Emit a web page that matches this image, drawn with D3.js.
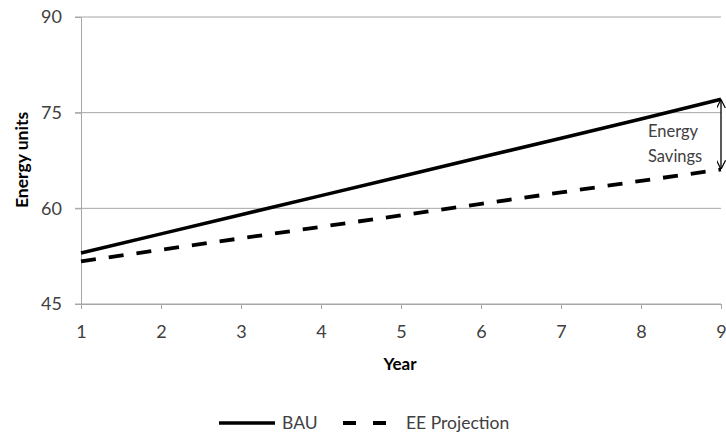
<!DOCTYPE html>
<html>
<head>
<meta charset="utf-8">
<script src="https://cdn.jsdelivr.net/npm/d3@7"></script>
<style>
  html, body { margin: 0; padding: 0; background: #fff; }
  svg { display: block; }
  text { font-family: Lato, "Open Sans", sans-serif; }
</style>
</head>
<body>
<svg id="chart" width="726" height="434"></svg>
<script>
// Projected energy use, years 1-9
const years = [1, 2, 3, 4, 5, 6, 7, 8, 9];
const bau = [53.0, 56.0, 59.0, 62.0, 65.0, 68.0, 71.0, 74.0, 77.1];
const eeProjection = [51.7, 53.5, 55.3, 57.1, 58.9, 60.7, 62.5, 64.3, 66.1];
const yTicks = [45, 60, 75, 90];
const seriesNames = ["BAU", "EE Projection"];

const svg = d3.select("#chart");
const margin = { left: 81, right: 5, top: 17, bottom: 130 };
const W = 726, H = 434;

const x = d3.scaleLinear().domain([1, 9]).range([margin.left, W - margin.right]);
const y = d3.scaleLinear().domain([45, 90]).range([304, margin.top]);

const grid = "#a6a6a6";
const textCol = "#404040";
const tickFont = "18px";

// Horizontal gridlines
svg.append("g")
  .selectAll("line")
  .data(yTicks)
  .join("line")
  .attr("x1", x(1) - 6).attr("x2", x(9))
  .attr("y1", d => y(d)).attr("y2", d => y(d))
  .attr("stroke", grid).attr("stroke-width", 1);

// Y axis
const yAxis = svg.append("g")
  .attr("transform", `translate(${x(1)},0)`)
  .call(d3.axisLeft(y).tickValues(yTicks).tickSize(6).tickPadding(13));
yAxis.select(".domain").attr("stroke", grid);
yAxis.selectAll(".tick line").attr("stroke", grid);
yAxis.selectAll(".tick text")
  .attr("fill", textCol).style("font-size", tickFont)
  .style("font-family", "Lato, 'Open Sans', sans-serif");

// X axis
const xAxis = svg.append("g")
  .attr("transform", `translate(0,${y(45)})`)
  .call(d3.axisBottom(x).tickValues(years).tickFormat(d3.format("d")).tickSize(5).tickPadding(16));
xAxis.select(".domain").attr("stroke", grid);
xAxis.selectAll(".tick line").attr("stroke", grid);
xAxis.selectAll(".tick text")
  .attr("fill", textCol).style("font-size", tickFont)
  .style("font-family", "Lato, 'Open Sans', sans-serif");

// Axis titles
svg.append("text")
  .attr("transform", `translate(28,160) rotate(-90)`)
  .attr("text-anchor", "middle")
  .style("font-size", "17.5px").style("font-weight", "bold")
  .attr("fill", "#000")
  .text("Energy units");

svg.append("text")
  .attr("x", 400).attr("y", 370)
  .attr("text-anchor", "middle")
  .style("font-size", "17px").style("font-weight", "bold")
  .attr("fill", "#000")
  .text("Year");

// Series lines
const line = d3.line().x((d, i) => x(years[i])).y(d => y(d));

svg.append("path")
  .datum(bau)
  .attr("d", line)
  .attr("fill", "none")
  .attr("stroke", "#000")
  .attr("stroke-width", 3.5);

svg.append("path")
  .datum(eeProjection)
  .attr("d", line)
  .attr("fill", "none")
  .attr("stroke", "#000")
  .attr("stroke-width", 3.8)
  .attr("stroke-dasharray", "15,13");

// Savings arrow between the two series at the final year
const defs = svg.append("defs");
defs.append("marker")
  .attr("id", "arrowHead")
  .attr("viewBox", "0 0 10 10")
  .attr("refX", 9).attr("refY", 5)
  .attr("markerWidth", 9).attr("markerHeight", 9)
  .attr("markerUnits", "userSpaceOnUse")
  .attr("orient", "auto-start-reverse")
  .append("path")
  .attr("d", "M0,0 L10,5 L0,10")
  .attr("fill", "none")
  .attr("stroke", "#000")
  .attr("stroke-width", 1.3);

const lastX = x(years[years.length - 1]);
svg.append("line")
  .attr("x1", lastX).attr("x2", lastX)
  .attr("y1", y(bau[bau.length - 1]) + 1)
  .attr("y2", y(eeProjection[eeProjection.length - 1]) - 1)
  .attr("stroke", "#000").attr("stroke-width", 1.3)
  .attr("marker-start", "url(#arrowHead)")
  .attr("marker-end", "url(#arrowHead)");

const note = svg.append("text")
  .attr("fill", textCol)
  .style("font-size", "16.5px");
note.append("tspan").attr("x", 648).attr("y", 137).text("Energy");
note.append("tspan").attr("x", 648).attr("y", 162).text("Savings");

// Legend
const legend = svg.append("g");
legend.append("line")
  .attr("x1", 219).attr("x2", 275).attr("y1", 423).attr("y2", 423)
  .attr("stroke", "#000").attr("stroke-width", 3.5);
legend.append("text")
  .attr("x", 282).attr("y", 429)
  .attr("fill", textCol).style("font-size", "17.5px")
  .text(seriesNames[0]);
legend.append("line")
  .attr("x1", 343).attr("x2", 386).attr("y1", 423).attr("y2", 423)
  .attr("stroke", "#000").attr("stroke-width", 3.8)
  .attr("stroke-dasharray", "13,17");
legend.append("text")
  .attr("x", 406).attr("y", 429)
  .attr("fill", textCol).style("font-size", "17.5px")
  .text(seriesNames[1]);
</script>
</body>
</html>
